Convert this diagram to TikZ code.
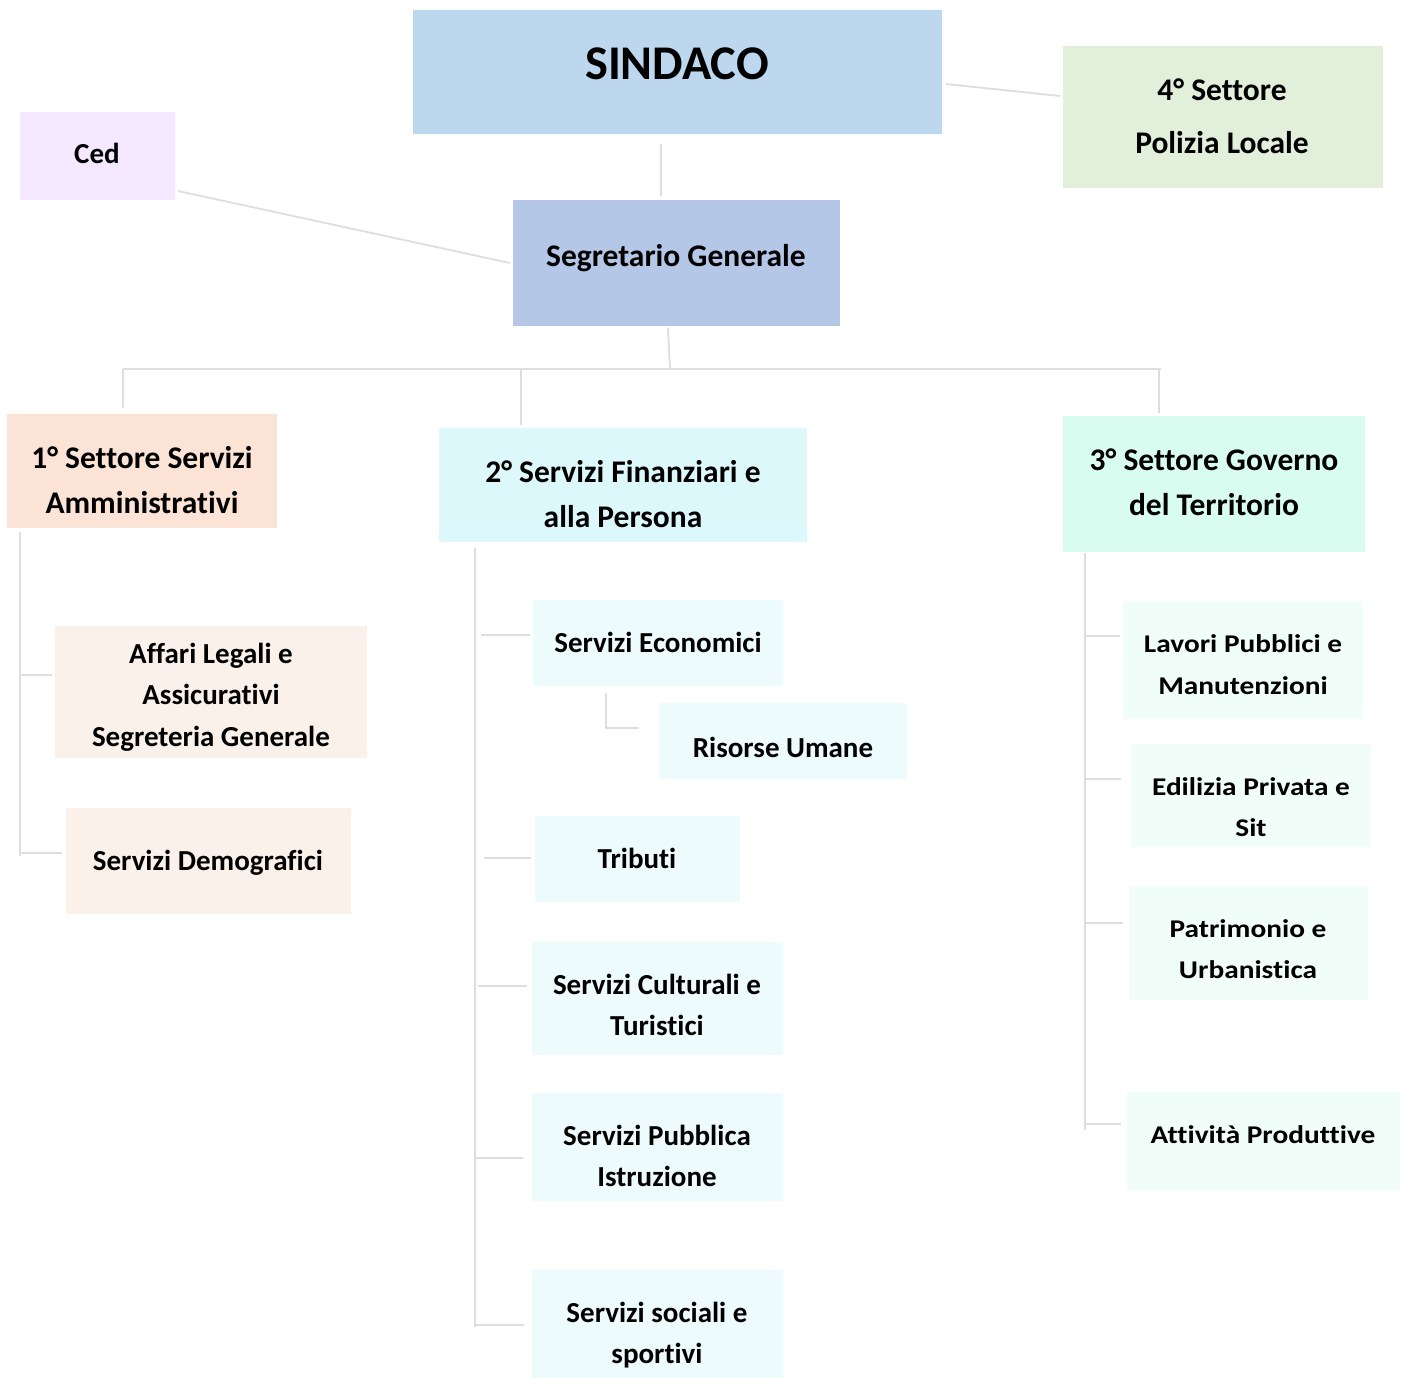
\documentclass[tikz,border=0pt]{standalone}
\usepackage{fontspec}
\setmainfont{Carlito}[Ligatures=NoCommon]
\newfontfamily\widefont{Carlito}[FakeStretch=1.15,Ligatures=NoCommon]
\definecolor{cSind}{HTML}{BDD7EE}
\definecolor{cSeg}{HTML}{B4C7E7}
\definecolor{cPol}{HTML}{E2EFDA}
\definecolor{cCed}{HTML}{F3E8FD}
\definecolor{cS1}{HTML}{FBE4D5}
\definecolor{cS1c}{HTML}{FBF1EB}
\definecolor{cS2}{HTML}{DDF8FA}
\definecolor{cS2c}{HTML}{EEFBFD}
\definecolor{cS3}{HTML}{D9FCF1}
\definecolor{cS3c}{HTML}{F0FDF8}
\definecolor{cLine}{HTML}{DEDEDE}
\newcommand{\sr}{\rule[-0.25em]{0pt}{1em}}
\begin{document}
\begin{tikzpicture}[x=0.5pt,y=-0.5pt,
  bx/.style n args={3}{draw=none, fill=#1, inner sep=0, minimum width=#2*0.5pt, minimum height=#3*0.5pt},
  tbase/.style={inner sep=0, align=center, yshift=-1.6pt},
  txt/.style={tbase, font=\bfseries\fontsize{14.5}{20.75}\selectfont},
  head/.style={tbase, font=\bfseries\fontsize{15.75}{22.5}\selectfont},
  rtxt/.style={tbase, font=\widefont\bfseries\fontsize{12.75}{20.75}\selectfont},
  ln/.style={draw=cLine, line width=0.9pt}]
\useasboundingbox (0,0) rectangle (1405,1378);
\fill[white] (0,0) rectangle (1405,1378);
% boxes
\node[bx={cSind}{529}{124}] (sind) at (677.5,72) {};
\node[bx={cPol}{320}{142}] (pol) at (1223,117) {};
\node[bx={cCed}{155}{88}] (ced) at (97.5,156) {};
\node[bx={cSeg}{327}{126}] (seg) at (676.5,263) {};
\node[bx={cS1}{270}{114}] (s1) at (142,471) {};
\node[bx={cS2}{368}{114}] (s2) at (623,485) {};
\node[bx={cS3}{302}{136}] (s3) at (1214,484) {};
\node[bx={cS1c}{312}{132}] (aff) at (211,692) {};
\node[bx={cS1c}{285}{106}] (dem) at (208.5,861) {};
\node[bx={cS2c}{250}{86}] (eco) at (658,643) {};
\node[bx={cS2c}{248}{76}] (ris) at (783,741) {};
\node[bx={cS2c}{205}{86}] (tri) at (637.5,859) {};
\node[bx={cS2c}{251}{113}] (cul) at (657.5,998.5) {};
\node[bx={cS2c}{251}{108}] (pub) at (657.5,1147) {};
\node[bx={cS2c}{251}{108}] (soc) at (657.5,1324) {};
\node[bx={cS3c}{240}{117}] (lav) at (1243,660.5) {};
\node[bx={cS3c}{240}{103}] (edi) at (1251,795.5) {};
\node[bx={cS3c}{239}{114}] (pat) at (1248.5,943) {};
\node[bx={cS3c}{273}{99}] (att) at (1263.5,1141.5) {};
% texts
\node[tbase, font=\bfseries\fontsize{24.2}{28}\selectfont] (sindT) at (677,64) {\sr SINDACO};
\node[head, font=\bfseries\fontsize{15.75}{26.5}\selectfont] (polT) at (1222,115.5) {\sr 4° Settore\\Polizia Locale\sr};
\node[txt] (cedT) at (97,153) {\sr Ced};
\node[head] (segT) at (676,255) {\sr Segretario Generale};
\node[head] (s1T) at (142,479.5) {\sr 1° Settore Servizi\\Amministrativi\sr};
\node[head] (s2T) at (623,493.5) {\sr 2° Servizi Finanziari e\\alla Persona\sr};
\node[head] (s3T) at (1214,481.5) {\sr 3° Settore Governo\\del Territorio\sr};
\node[txt] (affT) at (211,694.5) {\sr Affari Legali e\\Assicurativi\\Segreteria Generale\sr};
\node[txt] (demT) at (208,860) {\sr Servizi Demografici};
\node[txt] (ecoT) at (658,642) {\sr Servizi Economici};
\node[txt] (risT) at (783,747) {\sr Risorse Umane};
\node[txt] (triT) at (637,858) {\sr Tributi};
\node[txt] (culT) at (657,1004.5) {\sr Servizi Culturali e\\Turistici\sr};
\node[txt] (pubT) at (657,1155.5) {\sr Servizi Pubblica\\Istruzione\sr};
\node[txt] (socT) at (657,1332.5) {\sr Servizi sociali e\\sportivi\sr};
\node[rtxt] (lavT) at (1243,664) {\sr Lavori Pubblici e\\Manutenzioni\sr};
\node[rtxt] (ediT) at (1251,806.5) {\sr Edilizia Privata e\\Sit\sr};
\node[rtxt] (patT) at (1248,948.5) {\sr Patrimonio e\\Urbanistica\sr};
\node[rtxt] (attT) at (1263,1134) {\sr Attività Produttive};
% connector coordinates
\coordinate (sindE) at (946,84);   \coordinate (polW) at (1060,96);
\coordinate (sindS) at (661,144);  \coordinate (segN) at (661,196);
\coordinate (cedE) at (178,191);   \coordinate (segW) at (510,263);
\coordinate (segS) at (668,328);   \coordinate (busM) at (670,369);
\coordinate (busL) at (123,369);   \coordinate (busR) at (1161,369);
\coordinate (b1) at (123,408);     \coordinate (b2t) at (521,369); \coordinate (b2) at (521,425);
\coordinate (b3t) at (1159,369);   \coordinate (b3) at (1159,413);
\coordinate (t1a) at (20,532);     \coordinate (t1b) at (20,856);
\coordinate (t1y1) at (20,675);    \coordinate (affW) at (52,675);
\coordinate (t1y2) at (20,853);    \coordinate (demW) at (62,853);
\coordinate (t2a) at (475,548);    \coordinate (t2b) at (475,1327);
\coordinate (t2y1) at (481,635);   \coordinate (ecoW) at (530,635);
\coordinate (t2y2) at (484,858);   \coordinate (triW) at (531,858);
\coordinate (t2y3) at (478,986);   \coordinate (culW) at (527,986);
\coordinate (t2y4) at (476,1158);  \coordinate (pubW) at (523,1158);
\coordinate (t2y5) at (476,1325);  \coordinate (socW) at (524,1325);
\coordinate (ecoS) at (606,693);   \coordinate (ecoC) at (606,728); \coordinate (risW) at (639,728);
\coordinate (t3a) at (1085,553);   \coordinate (t3b) at (1085,1130);
\coordinate (t3y1) at (1086,636);  \coordinate (lavW) at (1120,636);
\coordinate (t3y2) at (1086,779);  \coordinate (ediW) at (1121,779);
\coordinate (t3y3) at (1086,923);  \coordinate (patW) at (1123,923);
\coordinate (t3y4) at (1086,1124); \coordinate (attW) at (1121,1124);
% connectors
\draw[ln] (sindE) -- (polW);
\draw[ln] (sindS) -- (segN);
\draw[ln] (cedE) -- (segW);
\draw[ln] (segS) -- (busM);
\draw[ln] (busL) -- (busR);
\draw[ln] (busL) -- (b1);
\draw[ln] (b2t) -- (b2);
\draw[ln] (b3t) -- (b3);
\draw[ln] (t1a) -- (t1b);
\draw[ln] (t1y1) -- (affW);
\draw[ln] (t1y2) -- (demW);
\draw[ln] (t2a) -- (t2b);
\draw[ln] (t2y1) -- (ecoW);
\draw[ln] (t2y2) -- (triW);
\draw[ln] (t2y3) -- (culW);
\draw[ln] (t2y4) -- (pubW);
\draw[ln] (t2y5) -- (socW);
\draw[ln] (ecoS) -- (ecoC) -- (risW);
\draw[ln] (t3a) -- (t3b);
\draw[ln] (t3y1) -- (lavW);
\draw[ln] (t3y2) -- (ediW);
\draw[ln] (t3y3) -- (patW);
\draw[ln] (t3y4) -- (attW);
\end{tikzpicture}
\end{document}
